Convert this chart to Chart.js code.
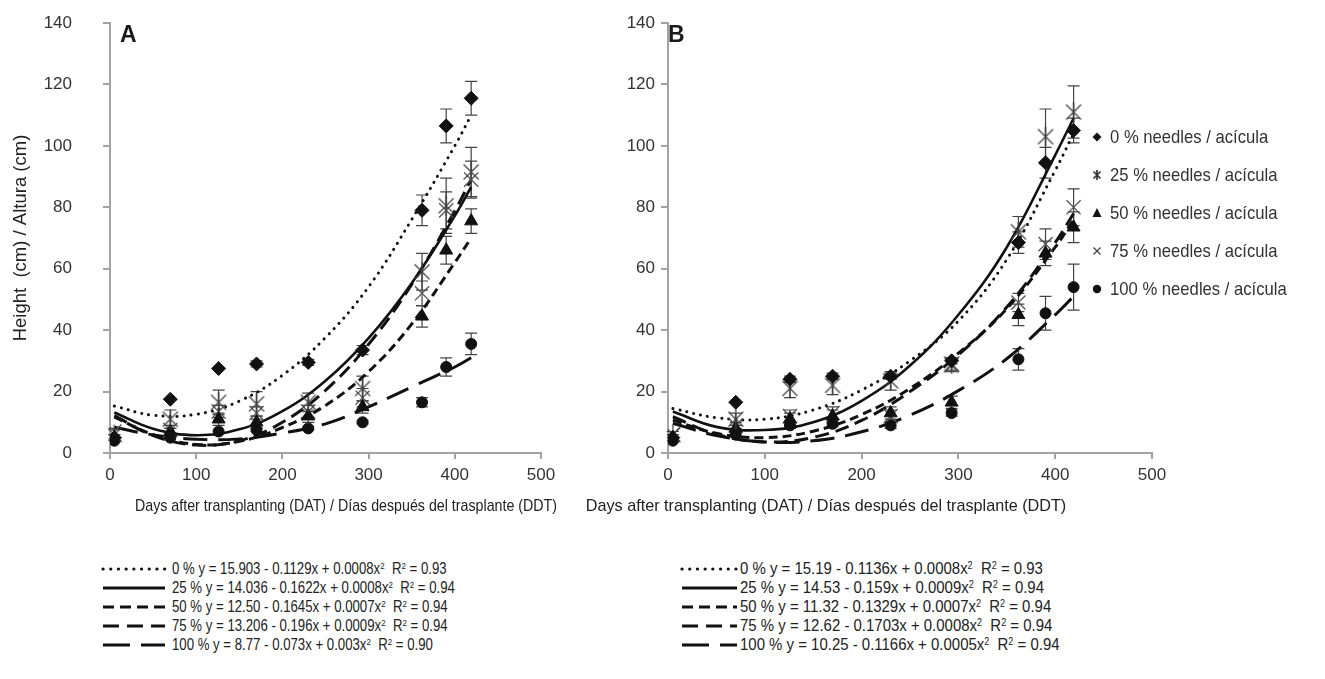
<!DOCTYPE html>
<html>
<head>
<meta charset="utf-8">
<script src="https://cdn.jsdelivr.net/npm/chart.js@4.4.1/dist/chart.umd.min.js"></script>
<style>
  body { margin: 0; background: #fff; width: 1325px; height: 679px; overflow: hidden; position: relative;
         font-family: 'Liberation Sans', Arial, sans-serif; color: #222; }
  canvas { position: absolute; top: 0; }
  #chartA { left: 0; }
  #chartB { left: 600px; }
  .panel { position: absolute; font-weight: bold; font-size: 23px; line-height: 1; color: #1a1a1a; }
  .xtitle { position: absolute; top: 495px; line-height: 22px; font-size: 17px; white-space: nowrap; color: #222; }
  .leg { position: absolute; line-height: 22px; font-size: 18.5px; color: #333; white-space: nowrap;
         transform: scaleX(0.9); transform-origin: 0 50%; }
  .legmark { position: absolute; }
  .legmark svg, .sample svg { display: block; }
  .eq { position: absolute; line-height: 19px; color: #222; white-space: nowrap; transform-origin: 0 50%; }
  .eq sup { font-size: 0.6em; vertical-align: 0.5em; line-height: 0; }
  .sample { position: absolute; line-height: 0; }
</style>
</head>
<body>
<canvas id="chartA" width="570" height="530"></canvas>
<canvas id="chartB" width="580" height="530"></canvas>
<div class="panel" style="left:120px;top:23px">A</div>
<div class="panel" style="left:668px;top:23px">B</div>
<div class="xtitle" style="left:346px;transform:translateX(-50%) scaleX(0.837)">Days after transplanting (DAT) / Días después del trasplante (DDT)</div>
<div class="xtitle" style="left:826px;transform:translateX(-50%) scaleX(0.953)">Days after transplanting (DAT) / Días después del trasplante (DDT)</div>
<div id="legend"></div>
<div id="eqs"></div>

<script>
// measurement days and days used to trace the trend curves
const days = [5, 70, 126, 170, 230, 293, 362, 390, 419];
const fitDays = [5, 50, 100, 150, 200, 250, 300, 350, 400, 419];
const treatments = ['0 % needles / acícula', '25 % needles / acícula', '50 % needles / acícula',
                    '75 % needles / acícula', '100 % needles / acícula'];
const xTicks = [0, 100, 200, 300, 400, 500];
const yTicks = [0, 20, 40, 60, 80, 100, 120, 140];

// Panel A - mean height (cm) and error
const a0 = [5, 17.5, 27.5, 29, 29.5, 33.5, 79, 106.5, 115.5];
const a0Err = [0, 0, 0, 1, 1, 1.5, 5, 5.5, 5.5];
const a25 = [6, 11, 16.5, 16, 16.5, 21, 59, 80.5, 91.5];
const a25Err = [1.5, 3, 4, 4, 3, 4, 6, 9, 8];
const a50 = [5, 7, 11, 10, 12, 15, 44.5, 66, 75.5];
const a50Err = [1, 1, 2, 2, 2, 2, 3.5, 4.5, 4];
const a75 = [7, 7.5, 13.5, 13, 13.5, 18, 52, 79, 89];
const a75Err = [1, 1.5, 2, 2, 2, 3, 4, 6, 6];
const a100 = [4, 5, 7, 7.5, 8, 10, 16.5, 28, 35.5];
const a100Err = [0, 0, 0, 0.5, 0.5, 0.5, 1.5, 3, 3.5];

// Panel A - trend curves
const fitA0 = [15.3, 12.3, 12.6, 16.9, 25.3, 37.6, 54.1, 76, 100, 110];
const fitA25 = [13.2, 7.9, 5.8, 7.7, 13.6, 23.5, 37.4, 55.3, 77.2, 86.6];
const fitA50 = [11.7, 6.0, 2.8, 3.8, 8.3, 15.5, 26.5, 42, 62, 70];
const fitA75 = [12.2, 5.7, 2.6, 4.0, 10.0, 20.4, 35.4, 54.9, 78.8, 89.1];
const fitA100 = [8.4, 5.9, 4.5, 4.6, 6.5, 9.5, 15, 21.5, 28, 31];

// Panel B
const b0 = [5, 16.5, 24, 25, 25, 30, 68.5, 94.5, 105];
const b0Err = [0, 0, 1, 1, 1, 1, 3.5, 5, 4];
const b25 = [6, 11, 21, 22, 23.5, 29, 72, 103, 111];
const b25Err = [1, 2, 3, 3, 3, 2, 5, 9, 8.5];
const b50 = [5, 8, 11, 12, 13, 16.5, 45, 65, 73.5];
const b50Err = [1, 1, 2, 2, 2, 2, 3.5, 4, 5];
const b75 = [6, 9, 12, 13, 12, 28.5, 49, 68, 80];
const b75Err = [1, 1, 2, 2, 2, 2, 3, 5, 6];
const b100 = [4, 6, 9, 9.5, 9, 13, 30.5, 45.5, 54];
const b100Err = [0, 0, 1, 1, 1, 1, 3.5, 5.5, 7.5];

const fitB0 = [14.5, 11.5, 11, 14, 20.5, 30, 43, 63, 92, 104];
const fitB25 = [13.5, 8.5, 7.5, 10, 17, 28.5, 45, 67, 97, 109];
const fitB50 = [10.7, 6.4, 5.0, 7.1, 12.5, 21, 32.5, 47, 67, 76];
const fitB75 = [11.8, 6.1, 3.6, 5.1, 10.6, 20, 32, 47.5, 68.5, 78];
const fitB100 = [9.7, 5.7, 3.6, 4.0, 6.9, 12.3, 20.3, 30.7, 45, 51];

// regression equations printed under each panel
const eqPct = ['0 %', '25 %', '50 %', '75 %', '100 %'];
const eqA = [['15.903', '0.1129', '0.0008', '0.93'], ['14.036', '0.1622', '0.0008', '0.94'],
             ['12.50', '0.1645', '0.0007', '0.94'], ['13.206', '0.196', '0.0009', '0.94'],
             ['8.77', '0.073', '0.003', '0.90']];
const eqB = [['15.19', '0.1136', '0.0008', '0.93'], ['14.53', '0.159', '0.0009', '0.94'],
             ['11.32', '0.1329', '0.0007', '0.94'], ['12.62', '0.1703', '0.0008', '0.94'],
             ['10.25', '0.1166', '0.0005', '0.94']];

const FONT = "'Liberation Sans', Arial, sans-serif";
const AXIS = '#a3a3a3';
const INK = '#111';

// asterisk marker (x plus vertical stroke), like the Excel "star"
function makeAsterisk(size, lw) {
    const c = document.createElement('canvas');
    c.width = size; c.height = size;
    const g = c.getContext('2d');
    const m = size / 2, r = size / 2 - 1;
    g.strokeStyle = '#444';
    g.lineWidth = lw;
    g.beginPath();
    g.moveTo(m - r * 0.75, m - r * 0.75); g.lineTo(m + r * 0.75, m + r * 0.75);
    g.moveTo(m + r * 0.75, m - r * 0.75); g.lineTo(m - r * 0.75, m + r * 0.75);
    g.moveTo(m, m - r); g.lineTo(m, m + r);
    g.stroke();
    return c;
}
const asterisk = makeAsterisk(22, 1.3);

const markerStyles = [
    { pointStyle: 'rectRot', pointRadius: 7, pointBackgroundColor: INK, pointBorderColor: INK, pointBorderWidth: 1 },
    { pointStyle: asterisk, pointRadius: 10 },
    { pointStyle: 'triangle', pointRadius: 7.5, pointBackgroundColor: INK, pointBorderColor: INK, pointBorderWidth: 1 },
    { pointStyle: 'crossRot', pointRadius: 10, pointBorderColor: '#555', pointBorderWidth: 1.3 },
    { pointStyle: 'circle', pointRadius: 5.5, pointBackgroundColor: INK, pointBorderColor: INK, pointBorderWidth: 1 }
];
const lineDashes = [[0.1, 7], [], [9, 5], [14, 7], [24, 11]];

function pairs(xs, ys) {
    return xs.map((x, i) => ({ x: x, y: ys[i] }));
}

// error bars drawn through the chart scales
const errorBars = {
    id: 'errorBars',
    beforeDatasetsDraw(chart) {
        const { ctx, scales: { x, y } } = chart;
        ctx.save();
        ctx.strokeStyle = '#444';
        ctx.lineWidth = 1.2;
        chart.data.datasets.forEach(ds => {
            if (!ds.err) return;
            ds.data.forEach((p, i) => {
                const e = ds.err[i];
                if (!e) return;
                const px = x.getPixelForValue(p.x);
                const top = y.getPixelForValue(p.y + e);
                const bot = y.getPixelForValue(p.y - e);
                ctx.beginPath();
                ctx.moveTo(px, top); ctx.lineTo(px, bot);
                ctx.moveTo(px - 6, top); ctx.lineTo(px + 6, top);
                ctx.moveTo(px - 6, bot); ctx.lineTo(px + 6, bot);
                ctx.stroke();
            });
        });
        ctx.restore();
    }
};

function buildChart(id, means, errs, fits, yTitle, yWidth, yPad, padRight) {
    const datasets = [];
    means.forEach((m, i) => {
        datasets.push(Object.assign({
            label: treatments[i],
            data: pairs(days, m),
            err: errs[i],
            showLine: false,
            order: 0
        }, markerStyles[i]));
    });
    fits.forEach((f, i) => {
        datasets.push({
            label: 'fit ' + treatments[i],
            data: pairs(fitDays, f),
            showLine: true,
            pointRadius: 0,
            borderColor: INK,
            borderWidth: i === 1 ? 2.6 : 3,
            borderDash: lineDashes[i],
            borderCapStyle: i === 0 ? 'round' : 'butt',
            tension: 0.4,
            fill: false,
            order: 1
        });
    });

    return new Chart(document.getElementById(id), {
        type: 'scatter',
        data: { datasets: datasets },
        plugins: [errorBars],
        options: {
            responsive: false,
            animation: false,
            devicePixelRatio: 1,
            layout: { padding: { top: 23, right: padRight, left: 0, bottom: 0 } },
            plugins: { legend: { display: false }, tooltip: { enabled: false } },
            scales: {
                x: {
                    type: 'linear', min: 0, max: 500,
                    afterBuildTicks: s => { s.ticks = xTicks.map(v => ({ value: v })); },
                    afterFit: s => { s.height = 77; s.paddingLeft = 0; s.paddingRight = 0; },
                    ticks: { color: '#333', font: { family: FONT, size: 17 }, padding: 6, maxRotation: 0 },
                    grid: { drawOnChartArea: false, color: AXIS, lineWidth: 2, tickLength: 6 },
                    border: { color: AXIS, width: 2 }
                },
                y: {
                    min: 0, max: 140,
                    afterBuildTicks: s => { s.ticks = yTicks.map(v => ({ value: v })); },
                    afterFit: s => { s.width = yWidth; s.paddingTop = 0; s.paddingBottom = 0; },
                    ticks: { color: '#333', font: { family: FONT, size: 17 }, padding: yPad },
                    grid: { drawOnChartArea: false, color: AXIS, lineWidth: 2, tickLength: 7 },
                    border: { color: AXIS, width: 2 },
                    title: {
                        display: !!yTitle, text: yTitle,
                        color: '#222', font: { family: FONT, size: 18.5 }, padding: { top: 10, bottom: 0 }
                    }
                }
            }
        }
    });
}

buildChart('chartA', [a0, a25, a50, a75, a100], [a0Err, a25Err, a50Err, a75Err, a100Err],
           [fitA0, fitA25, fitA50, fitA75, fitA100], 'Height  (cm) / Altura (cm)', 110, 31, 29);
buildChart('chartB', [b0, b25, b50, b75, b100], [b0Err, b25Err, b50Err, b75Err, b100Err],
           [fitB0, fitB25, fitB50, fitB75, fitB100], '', 68, 6, 28);

// marker legend (right side)
const legendSvg = [
    '<polygon points="9,4.5 13.5,9 9,13.5 4.5,9" fill="#111"/>',
    '<path d="M5.5,5.5 L12.5,12.5 M12.5,5.5 L5.5,12.5 M9,4 L9,14" stroke="#333" stroke-width="1.7"/>',
    '<polygon points="9,4 13.5,13 4.5,13" fill="#111"/>',
    '<path d="M5.5,5.5 L12.5,12.5 M12.5,5.5 L5.5,12.5" stroke="#444" stroke-width="1.3"/>',
    '<circle cx="9" cy="9" r="4.2" fill="#111"/>'
];
const legY = [137, 175, 213, 251, 289];
const legend = document.getElementById('legend');
treatments.forEach((t, i) => {
    const m = document.createElement('div');
    m.className = 'legmark';
    m.style.left = '1088px';
    m.style.top = (legY[i] - 9) + 'px';
    m.innerHTML = '<svg width="18" height="18">' + legendSvg[i] + '</svg>';
    legend.appendChild(m);
    const d = document.createElement('div');
    d.className = 'leg';
    d.style.left = '1110px';
    d.style.top = (legY[i] - 11) + 'px';
    d.textContent = t;
    legend.appendChild(d);
});

// equation legend with line samples under each panel
const sampleDash = ['0.1 7.6', '', '11 6', '16 8', '27 11'];
function lineSample(i, left, w, yc) {
    const cap = i === 0 ? 'round' : 'butt';
    const dash = sampleDash[i] ? ' stroke-dasharray="' + sampleDash[i] + '"' : '';
    const s = document.createElement('div');
    s.className = 'sample';
    s.style.left = left + 'px';
    s.style.top = (yc - 3) + 'px';
    s.innerHTML = '<svg width="' + (w + 4) + '" height="6"><line x1="2" y1="3" x2="' + (w + 2) +
                  '" y2="3" stroke="#111" stroke-width="3.2" stroke-linecap="' + cap + '"' + dash + '/></svg>';
    return s;
}
const eqY = [569, 588, 607, 626, 645];
const eqs = document.getElementById('eqs');
function addEquations(list, sampleLeft, sampleW, textLeft, size, squeeze) {
    list.forEach((e, i) => {
        eqs.appendChild(lineSample(i, sampleLeft, sampleW, eqY[i]));
        const d = document.createElement('div');
        d.className = 'eq';
        d.style.left = textLeft + 'px';
        d.style.top = (eqY[i] - 10) + 'px';
        d.style.fontSize = size + 'px';
        d.style.transform = 'scaleX(' + squeeze + ')';
        d.innerHTML = eqPct[i] + ' y = ' + e[0] + ' - ' + e[1] + 'x + ' + e[2] +
                      'x<sup>2</sup>&nbsp;&nbsp;R<sup>2</sup> = ' + e[3];
        eqs.appendChild(d);
    });
}
addEquations(eqA, 101, 62, 172, 16.5, 0.8);
addEquations(eqB, 680, 55, 740, 17, 0.88);
</script>
</body>
</html>
